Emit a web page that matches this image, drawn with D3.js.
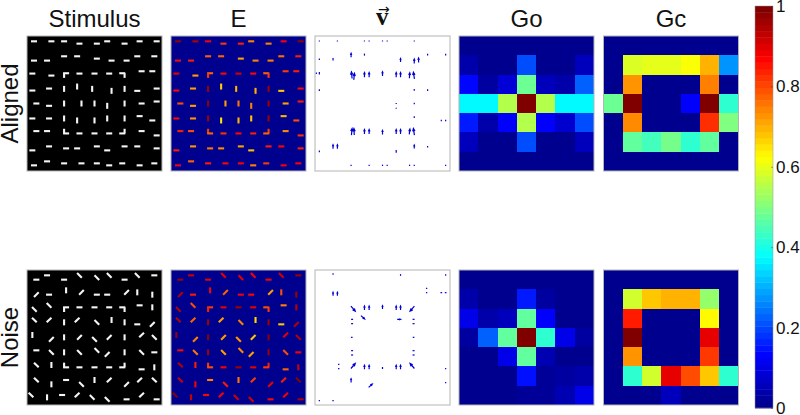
<!DOCTYPE html>
<html>
<head>
<meta charset="utf-8">
<script src="https://cdn.jsdelivr.net/npm/d3@7"></script>
<style>
html, body { margin: 0; padding: 0; background: #fff; }
svg { display: block; }
text { font-family: "Liberation Sans", Arial, sans-serif; fill: #111; }
</style>
</head>
<body>
<svg id="thesvg" width="800" height="415"></svg>
<script>
// bars: [x, y, angle, E, length], stimulus units
var alignedBars = [
  [41,33,0,.98],[93,33,0,.95],[131,33,0,.88],[177,40,0,.82],[229,40,0,.85],[260,33,0,.75],[312,40,0,.75],[357,33,0,.88],[408,33,0,.98],
  [41,91,0,.87],[80,91,0,.85],[131,78,0,.78],[170,78,0,.78],[229,85,0,.72],[273,91,0,.75],[318,91,0,.75],[350,78,0,.77],[401,78,0,.85],
  [36,130,0,.9],[93,136,0,.72],[137,129,0,.78,18],[131,136,90,.82,14],[177,130,0,.87],[222,130,0,.92],[266,130,0,.87],[305,129,0,.78,18],[312,136,90,.82,14],[363,123,0,.82],[395,123,0,.85],
  [36,181,0,.87],[86,175,0,.72],[131,176,90,.97],[170,169,90,.67],[215,176,90,.7],[273,182,90,.7],[312,176,90,.97],[350,182,0,.68],[408,175,0,.87],
  [48,220,0,.8],[86,227,0,.72],[131,220,90,.98],[183,220,90,.72],[222,220,90,.76],[260,227,90,.75],[312,220,90,.97],[363,220,0,.72],[408,214,0,.85],
  [36,265,0,.87],[86,265,0,.73],[131,265,90,.97],[170,271,90,.65],[222,271,90,.7],[260,265,90,.68],[312,265,90,.97],[357,258,0,.7],[395,271,0,.8],
  [48,303,0,.85],[80,303,0,.8],[131,303,90,.82,14],[137,310,0,.78,18],[177,310,0,.83],[222,310,0,.87],[266,310,0,.85],[312,303,90,.82,14],[305,310,0,.78,18],[363,303,0,.74],[408,316,0,.83],
  [36,361,0,.85],[86,349,0,.73],[137,355,0,.76],[170,355,0,.74],[229,349,0,.72],[260,361,0,.69],[312,349,0,.85],[350,349,0,.88],[408,355,0,.85],
  [41,406,0,.88],[80,394,0,.78],[131,400,0,.85],[183,400,0,.87],[229,400,0,.88],[266,406,0,.75],[305,400,0,.82],[357,406,0,.88],[401,400,0,.88]
];
var noiseBars = [
  [48,44,0,.97],[80,31,0,.93],[131,44,0,.9],[177,31,45,.9],[229,38,45,.9],[266,31,45,.88],[312,44,0,.88],[350,31,45,.92],[401,31,0,.97],
  [48,89,-45,.95],[86,89,0,.85],[137,76,90,.88],[183,82,-45,.78],[229,89,0,.88],[260,89,0,.87],[318,82,-45,.72],[350,82,90,.8],[395,89,90,.97],
  [42,133,45,.95],[86,121,45,.8],[137,127,0,.82,18],[131,134,90,.85,14],[177,127,0,.9],[222,127,0,.97],[266,127,0,.9],[305,127,0,.8,18],[312,134,90,.82,14],[357,121,0,.75],[395,127,90,.95],
  [42,165,45,.95],[86,165,-45,.78],[131,172,90,.97],[170,165,-45,.72],[229,172,45,.75],[273,165,90,.66],[312,172,90,.97],[350,178,0,.68],[395,178,-45,.95],
  [36,210,90,.97],[93,223,-45,.75],[131,217,90,.99],[177,217,-45,.72],[222,223,45,.73],[266,217,-45,.68],[312,217,90,.99],[363,210,-45,.9],[401,217,45,.95],
  [48,256,0,.87],[93,262,45,.76],[131,262,90,.97],[177,262,45,.72],[229,256,45,.74],[260,268,-45,.72],[312,262,90,.97],[363,262,45,.8],[401,262,0,.88],
  [48,300,45,.95],[93,300,90,.85],[131,300,90,.82,14],[137,307,0,.8,18],[177,307,0,.88],[222,307,0,.97],[266,307,0,.9],[312,300,90,.85,14],[305,307,0,.82,18],[363,313,0,.78],[401,307,90,.92],
  [48,345,45,.92],[93,358,90,.88],[137,345,0,.75],[183,358,45,.85],[222,345,90,.76],[266,345,-45,.82],[318,358,-45,.9],[357,345,-45,.85],[401,345,45,.99],
  [32,390,45,.99],[80,397,90,.93],[125,390,0,.87],[170,390,-45,.88],[215,397,45,.92],[260,403,45,.92],[318,403,0,.87],[363,390,-45,.88],[408,403,0,.95]
];

// v field: [x, y, u, v]
var alignedVec = [
  [27,122,0,-3],[81,122,0,-3],[162,122,0,-3],[176,122,0,-3],[216,122,0,-3],[230,122,0,-3],[311,122,0,-3],
  [122,165,0,-12],[162,163,0,-6],[351,163,0,-5],[405,163,0,-5],
  [27,177,0,-5],[68,177,0,-7],[270,180,0,-10],[311,183,0,-14],[324,180,0,-14],
  [18,219,0,-4],[27,219,0,-8],[124,225,-2,-20],[131,229,2,-20],[162,224,0,-14],[176,224,0,-14],[216,221,0,-12],[257,224,0,-14],[270,224,0,-14],[297,226,1,-16],[310,226,-3,-20],
  [27,270,0,-5],[311,269,0,-5],[351,270,0,-5],
  [257,310,0,-3],[257,324,0,-3],[311,310,0,-4],[311,351,0,-5],[392,361,0,-5],[405,361,0,-5],
  [124,395,2,-20],[131,395,-1,-20],[162,395,0,-14],[176,395,0,-14],[216,397,0,-12],[257,395,0,-14],[270,395,0,-14],[297,395,2,-16],[310,395,-3,-20],
  [68,440,0,-12],[81,440,0,-12],[311,440,0,-10],[351,440,0,-5],[27,454,0,-5],[257,454,0,-8],
  [122,496,0,-4],[176,496,0,-4],[216,496,0,-4],[230,496,0,-4],[297,496,0,-4],[311,496,0,-4],[405,496,0,-4]
];
var noiseVec = [
  [68,42,0,-5],[270,45,0,-5],[405,45,0,-5],
  [348,85,-4,0],[348,98,-4,0],[392,98,-5,0],[405,98,5,0],[68,102,0,-10],[81,102,0,-10],
  [128,146,13,15],[162,144,0,-12],[176,144,0,-12],[216,142,0,-10],[257,144,0,-12],[270,144,0,-12],[305,146,-13,15],
  [157,172,11,10],[265,178,10,0],[125,178,-6,0],[125,191,-6,0],[309,178,6,0],[309,191,6,0],
  [124,232,-5,0],[309,232,5,0],
  [125,272,-6,0],[125,285,-6,0],[309,272,6,0],[309,285,6,0],
  [85,313,-4,0],[85,326,-4,0],[128,318,13,-15],[162,322,0,-12],[176,322,0,-12],[216,324,0,-6],[257,322,0,-12],[270,322,0,-12],[305,318,-13,-15],[405,326,0,-4],
  [122,362,0,-11],[180,377,11,-10],[405,368,0,-4],
  [27,422,0,-4],[68,422,-4,0]
];

// 7x7 maps, rows from the top
var goAligned = [
  [0,0,0,0,0,0,0],
  [.03,0,0,.2,0,0,.05],
  [.13,.02,.08,.48,.05,.03,.22],
  [.37,.37,.55,1,.55,.37,.37],
  [.15,.03,.12,.55,.12,.07,.2],
  [.05,0,0,.2,0,0,.05],
  [0,0,0,0,0,0,0]
];
var gcAligned = [
  [0,0,0,0,0,0,0],
  [0,.59,.6,.6,.62,.7,.27],
  [0,.73,0,0,0,.75,0],
  [.48,1,0,0,.12,1,.42],
  [0,.74,0,0,0,.83,.5],
  [0,.47,.44,.49,.42,.47,0],
  [0,0,0,0,0,0,0]
];
var goNoise = [
  [0,0,0,0,0,0,0],
  [.03,0,0,.15,.02,0,0],
  [.1,.03,.05,.47,.12,0,0],
  [.02,.22,.47,1,.42,.1,.02],
  [0,0,.1,.47,.04,0,0],
  [0,0,0,.14,.01,.02,.03],
  [0,0,0,.01,.01,.04,.1]
];
var gcNoise = [
  [0,0,0,0,0,0,0],
  [0,.58,.68,.7,.7,.52,0],
  [0,.85,0,0,0,.63,0],
  [0,1,0,0,0,.9,0],
  [0,.73,0,0,0,.82,0],
  [0,.42,.58,.9,.8,.68,.42],
  [0,0,0,.05,0,0,0]
];

var titles = ["Stimulus", "E", "", "Go", "Gc"];
var rowNames = ["Aligned", "Noise"];
var cbTicks = [0, 0.2, 0.4, 0.6, 0.8, 1];

var svg = d3.select("#thesvg");

var jet = d3.scaleLinear()
    .domain([0, 0.125, 0.375, 0.625, 0.875, 1])
    .range(["#00008f", "#0000ff", "#00ffff", "#ffff00", "#ff0000", "#800000"])
    .clamp(true);

var panelX = [27, 171, 315, 459, 603.5];
var rowY = [36, 270];
var size = 135;
var border = "#b4b4b4";

// crop windows the stimulus and vector values were read in
var barDomY = [[17, 423], [15, 420]];
var vecDomY = [[107, 513], [30, 435]];
var barX = d3.scaleLinear().domain([20, 424]).range([0, size]);
var vecX = d3.scaleLinear().domain([14, 418]).range([0, size]);

function frame(g) {
    g.append("rect")
        .attr("width", size)
        .attr("height", size)
        .attr("fill", "none")
        .attr("stroke", border)
        .attr("stroke-width", 1);
}

function drawBars(g, bars, row, bg, colorFn) {
    var y = d3.scaleLinear().domain(barDomY[row]).range([0, size]);
    g.append("rect").attr("width", size).attr("height", size).attr("fill", bg);
    g.selectAll("line.bar")
        .data(bars)
        .enter()
        .append("line")
        .attr("class", "bar")
        .each(function(d) {
            var a = d[2] * Math.PI / 180;
            var l = (d[4] || (d[2] % 90 == 0 ? 18 : 20)) / 2;
            d3.select(this)
                .attr("x1", barX(d[0] - l * Math.cos(a)))
                .attr("x2", barX(d[0] + l * Math.cos(a)))
                .attr("y1", y(d[1] - l * Math.sin(a)))
                .attr("y2", y(d[1] + l * Math.sin(a)));
        })
        .attr("stroke", colorFn)
        .attr("stroke-width", 2.1);
    frame(g);
}

function drawVec(g, vec, row) {
    var y = d3.scaleLinear().domain(vecDomY[row]).range([0, size]);
    g.append("rect").attr("width", size).attr("height", size).attr("fill", "#fff");
    g.selectAll("path.vec")
        .data(vec)
        .enter()
        .append("path")
        .attr("class", "vec")
        .attr("d", function(d) {
            var x1 = vecX(d[0] - d[2] / 2), y1 = y(d[1] - d[3] / 2);
            var x2 = vecX(d[0] + d[2] / 2), y2 = y(d[1] + d[3] / 2);
            var p = d3.path();
            p.moveTo(x1, y1);
            p.lineTo(x2, y2);
            var len = Math.sqrt((x2 - x1) * (x2 - x1) + (y2 - y1) * (y2 - y1));
            if (len > 3) {
                var t = Math.atan2(y2 - y1, x2 - x1), h = len * 0.45;
                p.moveTo(x2 - h * Math.cos(t - 0.4), y2 - h * Math.sin(t - 0.4));
                p.lineTo(x2, y2);
                p.lineTo(x2 - h * Math.cos(t + 0.4), y2 - h * Math.sin(t + 0.4));
            }
            return p.toString();
        })
        .attr("fill", "none")
        .attr("stroke", "#0000d8")
        .attr("stroke-width", 1.2);
    frame(g);
}

function drawMap(g, m) {
    var x = d3.scaleBand().domain(d3.range(7)).range([0, size]);
    g.append("rect").attr("width", size).attr("height", size).attr("fill", jet(0));
    g.selectAll("g.r")
        .data(m)
        .enter()
        .append("g")
        .attr("class", "r")
        .each(function(r, i) {
            d3.select(this).selectAll("rect")
                .data(r)
                .enter()
                .append("rect")
                .attr("x", function(d, j) { return x(j); })
                .attr("y", x(i))
                .attr("width", x.bandwidth())
                .attr("height", x.bandwidth())
                .attr("shape-rendering", "crispEdges")
                .attr("fill", function(d) { return jet(d); });
        });
    frame(g);
}

var allBars = [alignedBars, noiseBars];
var allVec = [alignedVec, noiseVec];
var allGo = [goAligned, goNoise];
var allGc = [gcAligned, gcNoise];

for (let r = 0; r < 2; r++) {
    var panel = function(c) {
        return svg.append("g").attr("transform", `translate(${panelX[c]}, ${rowY[r]})`);
    };
    drawBars(panel(0), allBars[r], r, "#000", function() { return "#f4f4f4"; });
    drawBars(panel(1), allBars[r], r, "#00008f", function(d) { return jet(d[3]); });
    drawVec(panel(2), allVec[r], r);
    drawMap(panel(3), allGo[r]);
    drawMap(panel(4), allGc[r]);

    svg.append("text")
        .attr("transform", `translate(17.5, ${rowY[r] + size / 2}) rotate(-90)`)
        .attr("text-anchor", "middle")
        .style("font-size", "24px")
        .text(rowNames[r]);
}

titles.forEach(function(t, i) {
    if (t == "") return;
    svg.append("text")
        .attr("x", panelX[i] + size / 2)
        .attr("y", 27)
        .attr("text-anchor", "middle")
        .style("font-size", "24px")
        .text(t);
});

// v with arrow over it
var vTitle = svg.append("text")
    .attr("x", 376)
    .attr("y", 25);
vTitle.append("tspan")
    .style("font-family", "'Liberation Serif', serif")
    .style("font-weight", "bold")
    .style("font-size", "25px")
    .text("v");
vTitle.append("tspan")
    .attr("dx", -10.5)
    .attr("dy", -11)
    .style("font-family", "'DejaVu Sans', sans-serif")
    .style("font-size", "14px")
    .text("\u2192");

// colorbar
var cbX = 755, cbW = 18, cbTop = 6, cbBottom = 408;
var cbY = d3.scaleLinear().domain([0, 1]).range([cbBottom, cbTop]);
var levels = d3.range(64);

svg.append("g")
    .selectAll("rect")
    .data(levels)
    .enter()
    .append("rect")
    .attr("x", cbX)
    .attr("width", cbW)
    .attr("y", function(d) { return cbY((d + 1) / 64); })
    .attr("height", (cbBottom - cbTop) / 64 + 0.4)
    .attr("fill", function(d) { return jet(d / 63); });

svg.append("rect")
    .attr("x", cbX)
    .attr("y", cbTop)
    .attr("width", cbW)
    .attr("height", cbBottom - cbTop)
    .attr("fill", "none")
    .attr("stroke", "#999")
    .attr("stroke-width", 0.5);

var cbAxis = d3.axisRight(cbY)
    .tickValues(cbTicks)
    .tickFormat(function(d) { return String(d); })
    .tickSizeInner(-2)
    .tickSizeOuter(0)
    .tickPadding(3);

var axisG = svg.append("g")
    .attr("transform", `translate(${cbX + cbW}, 0)`)
    .call(cbAxis);
axisG.select(".domain").remove();
axisG.selectAll("line").attr("stroke", "#333").attr("stroke-opacity", 0.4);
axisG.selectAll("text").style("font-size", "17px").attr("fill", "#111");
</script>
</body>
</html>
